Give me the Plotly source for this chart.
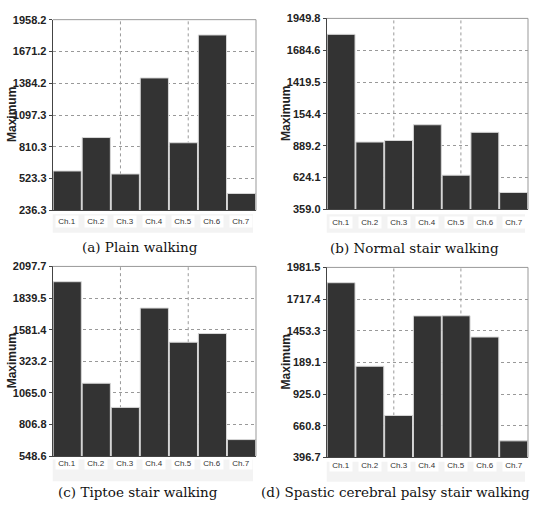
import plotly.graph_objects as go

W, H = 534, 511

categories = ["Ch.1", "Ch.2", "Ch.3", "Ch.4", "Ch.5", "Ch.6", "Ch.7"]

# Panel values (Maximum per channel)
plain_walking = [592, 894, 565, 1432, 847, 1820, 389]
normal_stair = [1817, 920, 933, 1064, 644, 1001, 500]
tiptoe_stair = [1973, 1144, 947, 1758, 1479, 1550, 684]
spastic_stair = [1854, 1157, 747, 1577, 1578, 1401, 535]

# Y tick values and labels as printed
ticks_a = [236.3, 523.3, 810.3, 1097.3, 1384.2, 1671.2, 1958.2]
ticktext_a = ["236.3", "523.3", "810.3", "1097.3", "1384.2", "1671.2", "1958.2"]
ticks_b = [359.0, 624.1, 889.2, 1154.4, 1419.5, 1684.6, 1949.8]
ticktext_b = ["359.0", "624.1", "889.2", "154.4", "1419.5", "1684.6", "1949.8"]
ticks_c = [548.6, 806.8, 1065.0, 1323.2, 1581.4, 1839.5, 2097.7]
ticktext_c = ["548.6", "806.8", "1065.0", "323.2", "1581.4", "1839.5", "2097.7"]
ticks_d = [396.7, 660.8, 925.0, 1189.1, 1453.3, 1717.4, 1981.5]
ticktext_d = ["396.7", "660.8", "925.0", "189.1", "1453.3", "1717.4", "1981.5"]

subtitles = ["(a) Plain walking", "(b) Normal stair walking",
             "(c) Tiptoe stair walking", "(d) Spastic cerebral palsy stair walking"]
y_title = "Maximum"


def px(x):
    return x / W


def py(y):
    return 1 - y / H


panels = [
    dict(vals=plain_walking, tv=ticks_a, tt=ticktext_a, box=(52.7, 256, 14, 209.3),
         band=(213.3, 232.3), lab=220.5, sub=(140, 247), ttl=12),
    dict(vals=normal_stair, tv=ticks_b, tt=ticktext_b, box=(326.7, 528, 12.7, 208.3),
         band=(213.3, 232.3), lab=221.5, sub=(414, 248), ttl=286),
    dict(vals=tiptoe_stair, tv=ticks_c, tt=ticktext_c, box=(52.7, 256, 266.7, 461),
         band=(464.3, 486.7), lab=475.5, sub=(138, 498), ttl=12),
    dict(vals=spastic_stair, tv=ticks_d, tt=ticktext_d, box=(326.7, 528, 267.7, 462.3),
         band=(466.7, 487.3), lab=476.7, sub=(395, 498), ttl=286),
]

fig = go.Figure()
shapes = []
annotations = []
tick_font = dict(family="Liberation Sans, Arial", size=11, color="#222222", weight="bold")

for i, p in enumerate(panels, start=1):
    xa = "x" if i == 1 else f"x{i}"
    ya = "y" if i == 1 else f"y{i}"
    L, R, T, B = p["box"]
    fig.add_trace(go.Bar(
        x=categories, y=p["vals"], xaxis=xa, yaxis=ya,
        marker=dict(color="#333333", line=dict(color="#d8d8d8", width=1)),
        showlegend=False, hoverinfo="x+y",
    ))
    ymin, ymax = p["tv"][0], p["tv"][-1]
    fig.update_layout(**{
        ("xaxis" if i == 1 else f"xaxis{i}"): dict(
            domain=[px(L), px(R)], anchor=ya, range=[-0.5, 6.5],
            showticklabels=False, ticks="", showgrid=False,
            showline=True, linecolor="#444444", linewidth=1, zeroline=False,
            fixedrange=True,
        ),
        ("yaxis" if i == 1 else f"yaxis{i}"): dict(
            domain=[py(B), py(T)], anchor=xa, range=[ymin, ymax],
            tickvals=p["tv"], ticktext=p["tt"], tickfont=tick_font,
            ticks="outside", ticklen=3, tickcolor="#444444",
            showgrid=True, gridcolor="#999999", griddash="dot", gridwidth=1,
            showline=True, linecolor="#444444", linewidth=1, zeroline=False,
            fixedrange=True,
        ),
    })
    # top / right frame lines (lighter)
    shapes.append(dict(type="line", xref=f"{xa} domain", yref=f"{ya} domain",
                       x0=0, x1=1, y0=1, y1=1, line=dict(color="#999999", width=1)))
    shapes.append(dict(type="line", xref=f"{xa} domain", yref=f"{ya} domain",
                       x0=1, x1=1, y0=0, y1=1, line=dict(color="#999999", width=1)))
    # vertical dotted gridlines at 1/3 and 2/3
    for fx in (1 / 3, 2 / 3):
        shapes.append(dict(type="line", xref=f"{xa} domain", yref=f"{ya} domain",
                           x0=fx, x1=fx, y0=0, y1=1, layer="below",
                           line=dict(color="#999999", width=1, dash="dot")))
    # label band
    b0, b1 = p["band"]
    shapes.append(dict(type="rect", xref="paper", yref="paper",
                       x0=px(L), x1=px(R - 3), y0=py(b1), y1=py(b0),
                       fillcolor="#f3f3f3", line=dict(width=0), layer="below"))
    for c in categories:
        annotations.append(dict(
            x=c, xref=xa, y=py(p["lab"]), yref="paper", text=c, showarrow=False,
            bgcolor="#ffffff", width=22, height=11, borderpad=0,
            font=dict(family="Liberation Sans, Arial", size=8, color="#333333"),
        ))
    # y title
    annotations.append(dict(
        x=px(p["ttl"]), y=py((T + B) / 2), xref="paper", yref="paper",
        text=y_title, textangle=-90, showarrow=False, xanchor="center", yanchor="middle",
        font=dict(family="Liberation Sans, Arial", size=12, color="#222222", weight="bold"),
    ))
    # subtitle
    sx, sy = p["sub"]
    annotations.append(dict(
        x=px(sx), y=py(sy), xref="paper", yref="paper", text=subtitles[i - 1],
        showarrow=False, xanchor="center", yanchor="middle",
        font=dict(family="DejaVu Serif, serif", size=13.5, color="#111111"),
    ))

fig.update_layout(
    width=W, height=H, margin=dict(l=0, r=0, t=0, b=0),
    paper_bgcolor="#ffffff", plot_bgcolor="#ffffff",
    bargap=0.03, shapes=shapes, annotations=annotations,
)

fig.write_html(
    "out.html",
    config={"displayModeBar": False},
    post_script="document.body.style.margin='0';document.body.style.overflow='hidden';",
)
